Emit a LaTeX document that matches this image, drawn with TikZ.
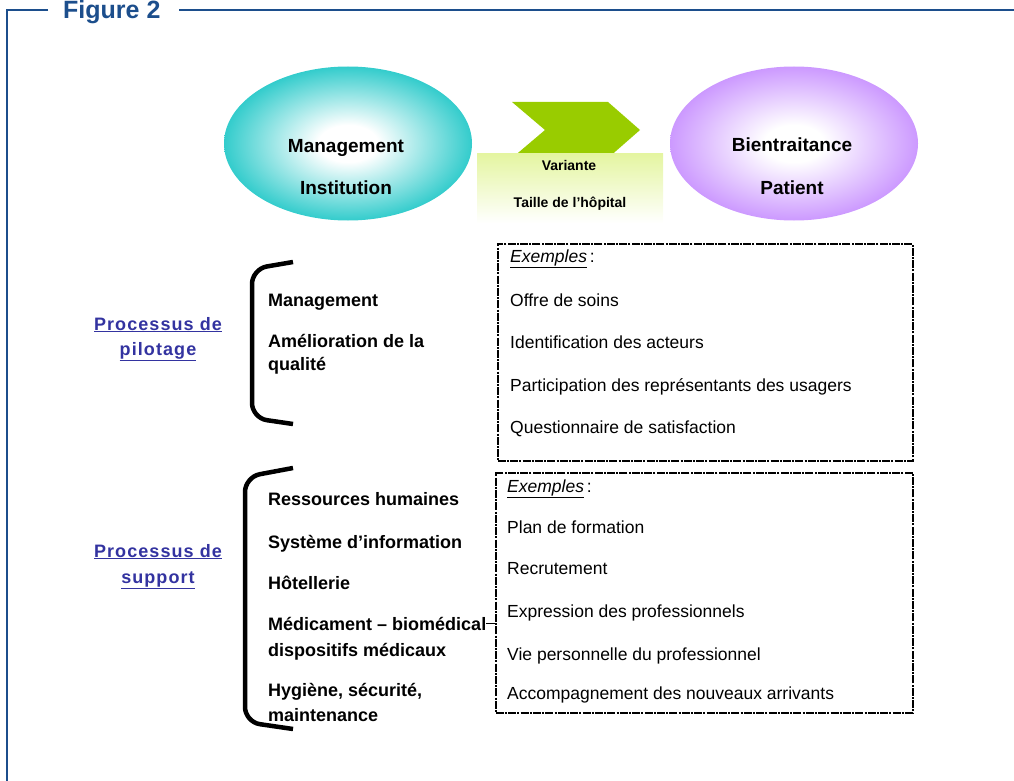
\documentclass[tikz,border=0pt]{standalone}
\usepackage{fontspec}
\setmainfont{Liberation Sans}
\usetikzlibrary{shapes.geometric}

\definecolor{bleufig}{RGB}{28,78,140}
\definecolor{bleulien}{RGB}{51,51,160}
\definecolor{turquoise}{RGB}{51,204,204}
\definecolor{lilas}{RGB}{204,153,255}
\definecolor{vertfleche}{RGB}{153,204,0}
\definecolor{vertpale}{RGB}{228,245,160}

\pgfdeclareradialshading{ombreturquoise}{\pgfpoint{0bp}{0bp}}{color(0bp)=(white); color(6bp)=(white); color(25bp)=(turquoise); color(50bp)=(turquoise)}
\pgfdeclareradialshading{ombrelilas}{\pgfpoint{0bp}{0bp}}{color(0bp)=(white); color(6bp)=(white); color(25bp)=(lilas); color(50bp)=(lilas)}

\tikzset{
  bulle/.style={ellipse, minimum width=248pt, minimum height=154pt, inner sep=0pt, shade},
  txtbulle/.style={anchor=base, inner sep=0pt, font=\bfseries\fontsize{19}{22}\selectfont},
  txtvar/.style={anchor=base, inner sep=0pt, font=\bfseries\fontsize{14}{16}\selectfont},
  processus/.style={anchor=base, inner sep=0pt, text=bleulien, font=\bfseries\fontsize{18}{20}\selectfont\addfontfeature{LetterSpace=6}},
  item/.style={anchor=base west, inner sep=0pt, font=\bfseries\fontsize{18}{20}\selectfont},
  exemple/.style={anchor=base west, inner sep=0pt, font=\fontsize{17.5}{20}\selectfont},
  cadre/.style={draw, line width=1.5pt, dash pattern=on 8pt off 1.2pt on 2pt off 1.2pt, anchor=north west, inner sep=0pt},
  accolade/.style={line width=4.5pt, rounded corners=15pt},
}

\begin{document}
\begin{tikzpicture}[x=1pt, y=-1pt]
\useasboundingbox (0,0) rectangle (1014,781);

% Cadre et titre
\node[anchor=base west, inner sep=0pt, text=bleufig, font=\bfseries\fontsize{25}{28}\selectfont] (titre) at (63,19) {Figure 2};
\draw[bleufig, line width=2pt] (48,10) -- (7,10) -- (7,781);
\draw[bleufig, line width=2pt] (179,10) -- (1014,10);

% Bulles
\node[bulle, shading=ombreturquoise] (manag) at (348,143.5) {};
\node[bulle, shading=ombrelilas] (bien) at (794,143.5) {};
\node[txtbulle] (manag1) at (346,152) {Management};
\node[txtbulle] (manag2) at (346,194) {Institution};
\node[txtbulle] (bien1) at (792,151) {Bientraitance};
\node[txtbulle] (bien2) at (792,194) {Patient};

% Fleche et variante
\fill[vertfleche] (512,102) -- (608,102) -- (640,130) -- (608,158) -- (512,158) -- (545,130) -- cycle;
\node[anchor=north west, minimum width=186pt, minimum height=70pt, inner sep=0pt, top color=vertpale, bottom color=white] (variante) at (477,153) {};
\node[txtvar] (var1) at (569,170) {Variante};
\node[txtvar] (var2) at (570,207) {Taille de l'hôpital};

% Processus de pilotage
\node[processus] (pilot1) at (158,330) {\underline{Processus de}};
\node[processus] (pilot2) at (158,355) {\underline{pilotage}};
\draw[accolade] (293,262) -- (252,269) -- (252,418) -- (293,424);
\foreach \y/\t [count=\i] in {306/Management, 347/Amélioration de la, 370/qualité}
  \node[item] (pil\i) at (268,\y) {\t};

% Processus de support
\node[processus] (supp1) at (158,557) {\underline{Processus de}};
\node[processus] (supp2) at (158,583) {\underline{support}};
\draw[accolade] (293,468) -- (245,477) -- (245,722) -- (293,729);
\foreach \y/\t [count=\i] in {505/Ressources humaines, 548/Système d'information, 589/Hôtellerie, 630/Médicament – biomédical, 656/dispositifs médicaux, 696/{Hygiène, sécurité,}, 721/maintenance}
  \node[item] (sup\i) at (268,\y) {\t};

% Exemples
\node[cadre, minimum width=415pt, minimum height=217pt] (ex1) at (497,243) {};
\node[exemple] (ex1titre) at (510,262) {\underline{\textit{Exemples}}\,:};
\foreach \y/\t [count=\i] in {306/Offre de soins, 348/Identification des acteurs, 391/Participation des représentants des usagers, 433/Questionnaire de satisfaction}
  \node[exemple] (exa\i) at (510,\y) {\t};

\node[cadre, minimum width=417pt, minimum height=240pt] (ex2) at (495,472) {};
\node[exemple] (ex2titre) at (507,492) {\underline{\textit{Exemples}}\,:};
\foreach \y/\t [count=\i] in {533/Plan de formation, 574/Recrutement, 617/Expression des professionnels, 660/Vie personnelle du professionnel, 699/Accompagnement des nouveaux arrivants}
  \node[exemple] (exb\i) at (507,\y) {\t};

\draw[line width=1pt] (sup4.east) -- (sup4.east -| ex2.west);
\end{tikzpicture}
\end{document}
